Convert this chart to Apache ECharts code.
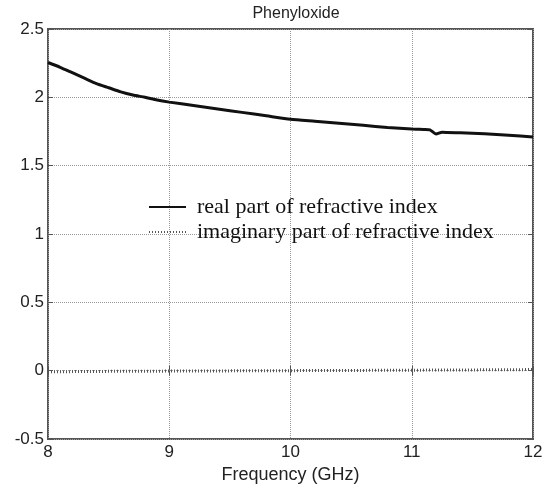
<!DOCTYPE html>
<html>
<head>
    <meta charset="utf-8" />
    <script src="https://cdn.jsdelivr.net/npm/echarts@6/dist/echarts.min.js"></script>
    <title>Phenyloxide</title>
    <style>
        html, body { margin: 0; padding: 0; background: #fff; }
    </style>
</head>
<body>
    <div id="main-chart" style="width: 554px; height: 489px;"></div>
    <script type="text/javascript">
        // frequency (GHz) and refractive index
        var freq = [8.0, 8.1, 8.2, 8.3, 8.4, 8.5, 8.6, 8.7, 8.8, 8.9, 9.0, 9.2, 9.4, 9.6, 9.8, 10.0,
            10.2, 10.4, 10.6, 10.8, 11.0, 11.1, 11.15, 11.2, 11.25, 11.4, 11.6, 11.8, 12.0];
        var realPart = [2.255, 2.22, 2.18, 2.14, 2.10, 2.07, 2.04, 2.017, 2.0, 1.98, 1.965, 1.94, 1.915, 1.89, 1.865, 1.84,
            1.825, 1.81, 1.795, 1.78, 1.768, 1.765, 1.762, 1.732, 1.745, 1.74, 1.733, 1.722, 1.71];
        var imagPart = [-0.008, -0.008, -0.007, -0.006, -0.006, -0.005, -0.005, -0.004, -0.004, -0.004, -0.003, -0.003, -0.002, -0.001, 0.0, 0.0,
            0.001, 0.002, 0.002, 0.003, 0.003, 0.004, 0.004, 0.004, 0.004, 0.005, 0.006, 0.007, 0.008];
        var xTicks = [8, 9, 10, 11, 12];
        var yTicks = [-0.5, 0, 0.5, 1, 1.5, 2, 2.5];

        var chart = echarts.init(document.getElementById('main-chart'));
        var realData = freq.map((f, i) => [f, realPart[i]]);
        var imagData = freq.map((f, i) => [f, imagPart[i]]);
        var labelFont = 'Liberation Sans';

        var option = {
            animation: false,
            title: {
                text: 'Phenyloxide',
                left: 291,
                textAlign: 'center',
                top: 1,
                textStyle: { fontFamily: labelFont, fontSize: 16, fontWeight: 'normal', color: '#222' }
            },
            legend: {
                orient: 'vertical',
                left: 143,
                top: 191,
                itemWidth: 37,
                itemHeight: 14,
                itemGap: 3,
                itemStyle: { opacity: 0 },
                textStyle: { fontFamily: 'Liberation Serif', fontSize: 22, color: '#111', padding: [0, 0, 0, 6] },
                data: ['real part of refractive index', 'imaginary part of refractive index']
            },
            grid: {
                left: 48, top: 29, right: 21, bottom: 50,
                show: true,
                borderColor: '#555',
                borderWidth: 2
            },
            xAxis: [{
                type: 'value',
                min: xTicks[0],
                max: xTicks[xTicks.length - 1],
                interval: 1,
                name: 'Frequency (GHz)',
                nameLocation: 'middle',
                nameGap: 24,
                nameTextStyle: { fontFamily: labelFont, fontSize: 18, color: '#222' },
                axisLine: { show: false },
                axisTick: { inside: true, length: 5, lineStyle: { color: '#555' } },
                axisLabel: { fontFamily: labelFont, fontSize: 17, color: '#222', margin: 5 },
                splitLine: { show: true, lineStyle: { type: 'dotted', color: '#999', width: 1 } }
            }, {
                type: 'value',
                position: 'top',
                min: xTicks[0],
                max: xTicks[xTicks.length - 1],
                interval: 1,
                axisLine: { show: false },
                axisTick: { inside: true, length: 5, lineStyle: { color: '#555' } },
                axisLabel: { show: false },
                splitLine: { show: false }
            }],
            yAxis: [{
                type: 'value',
                min: yTicks[0],
                max: yTicks[yTicks.length - 1],
                interval: 0.5,
                axisLine: { show: false },
                axisTick: { inside: true, length: 5, lineStyle: { color: '#555' } },
                axisLabel: { fontFamily: labelFont, fontSize: 17, color: '#222', margin: 4 },
                splitLine: { show: true, lineStyle: { type: 'dotted', color: '#999', width: 1 } }
            }, {
                type: 'value',
                position: 'right',
                min: yTicks[0],
                max: yTicks[yTicks.length - 1],
                interval: 0.5,
                axisLine: { show: false },
                axisTick: { inside: true, length: 5, lineStyle: { color: '#555' } },
                axisLabel: { show: false },
                splitLine: { show: false }
            }],
            series: [{
                name: 'real part of refractive index',
                type: 'line',
                data: realData,
                symbol: 'none',
                smooth: 0.2,
                color: '#111',
                lineStyle: { color: '#111', width: 3 }
            }, {
                name: 'imaginary part of refractive index',
                type: 'line',
                data: imagData,
                symbol: 'none',
                color: '#555',
                lineStyle: { color: '#555', width: 3, type: [1, 2] }
            }]
        };
        chart.setOption(option);
    </script>
</body>
</html>
